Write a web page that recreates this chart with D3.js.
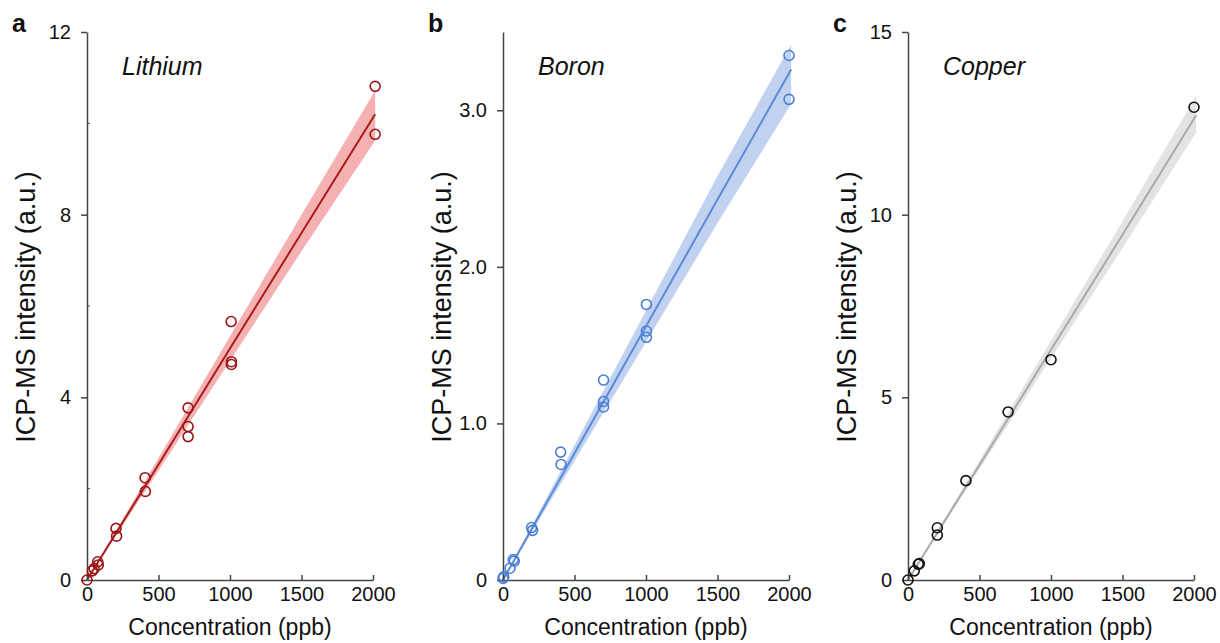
<!DOCTYPE html>
<html>
<head>
<meta charset="utf-8">
<script src="https://cdn.jsdelivr.net/npm/d3@7"></script>
<style>
  body { margin: 0; background: #fff; }
  text { font-family: "Liberation Sans", Arial, sans-serif; fill: #111; }
</style>
</head>
<body>
<div class="canvas"></div>
<script>
const liConc = [0, 37, 50, 75, 79, 203, 207, 406, 408, 707, 707, 707, 1008, 1010, 1010, 2015, 2015];
const liVal = [0, 0.2, 0.25, 0.4, 0.33, 1.13, 0.96, 2.24, 1.94, 3.77, 3.36, 3.14, 5.66, 4.78, 4.72, 10.81, 9.76];
const bConc = [0, 5, 49, 72, 79, 200, 207, 403, 406, 703, 703, 703, 1003, 1003, 1003, 2000, 2000];
const bVal = [0.01, 0.02, 0.075, 0.13, 0.12, 0.335, 0.317, 0.817, 0.738, 1.277, 1.14, 1.105, 1.76, 1.59, 1.55, 3.35, 3.07];
const cuConc = [0, 44, 72, 79, 205, 205, 405, 700, 1000, 2000];
const cuVal = [0, 0.25, 0.43, 0.45, 1.43, 1.23, 2.72, 4.6, 6.03, 12.94];

// fitted line and its shaded band, read at these concentrations
const fitConc = [0, 500, 1000, 1500, 2015];
const liFit = [0, 2.53, 5.07, 7.6, 10.2];
const liLo = [0, 2.39, 4.8, 7.2, 9.62];
const liHi = [0, 2.67, 5.34, 8.0, 10.72];
const bFit = [0, 0.81, 1.62, 2.43, 3.26];
const bLo = [0, 0.76, 1.52, 2.28, 3.04];
const bHi = [0, 0.86, 1.72, 2.58, 3.42];
const cuFit = [0, 3.15, 6.3, 9.45, 12.72];
const cuLo = [0, 3.04, 6.06, 9.09, 12.25];
const cuHi = [0, 3.28, 6.55, 9.82, 13.25];

const xTicks = [0, 500, 1000, 1500, 2000];

const panels = [
  { letter: 'a', name: 'Lithium', left: 87, yMax: 12, yTicks: [0, 4, 8, 12], yMinor: [2, 6, 10], fmt: d3.format('d'),
    conc: liConc, val: liVal, fit: liFit, lo: liLo, hi: liHi,
    line: '#a81c1c', dot: '#9a1515', band: '#f4a9a9' },
  { letter: 'b', name: 'Boron', left: 503, yMax: 3.5, yTicks: [0, 1, 2, 3], yMinor: [], fmt: d => d === 0 ? '0' : d3.format('.1f')(d),
    conc: bConc, val: bVal, fit: bFit, lo: bLo, hi: bHi,
    line: '#5a8ad8', dot: '#4a7ed4', band: '#b9cdee' },
  { letter: 'c', name: 'Copper', left: 908, yMax: 15, yTicks: [0, 5, 10, 15], yMinor: [], fmt: d3.format('d'),
    conc: cuConc, val: cuVal, fit: cuFit, lo: cuLo, hi: cuHi,
    line: '#a9a9a9', dot: '#111', band: '#e0e0e0' }
];

const dims = { width: 1220, height: 643, top: 32, bottom: 580, plotW: 286 };

const svg = d3.select('.canvas')
  .append('svg')
  .attr('width', dims.width)
  .attr('height', dims.height);

const axisColor = '#444';

panels.forEach(p => {
  const g = svg.append('g').attr('transform', `translate(${p.left}, 0)`);

  const x = d3.scaleLinear().domain([0, 2000]).range([0, dims.plotW]);
  const y = d3.scaleLinear().domain([0, p.yMax]).range([dims.bottom, dims.top]);

  // band
  const area = d3.area()
    .x((d, i) => x(fitConc[i]))
    .y0((d, i) => y(p.lo[i]))
    .y1((d, i) => y(p.hi[i]));
  g.append('path')
    .datum(fitConc)
    .attr('d', area)
    .attr('fill', p.band)
    .attr('opacity', 0.9);

  // fit line
  g.append('path')
    .datum(fitConc)
    .attr('d', d3.line().x((d, i) => x(fitConc[i])).y((d, i) => y(p.fit[i])))
    .attr('fill', 'none')
    .attr('stroke', p.line)
    .attr('stroke-width', 2);

  // x axis, ticks pointing up
  const xAxis = g.append('g')
    .attr('transform', `translate(0, ${dims.bottom})`)
    .call(d3.axisBottom(x).tickValues(xTicks).tickFormat(d3.format('d')).tickSize(-5).tickPadding(22).tickSizeOuter(0));
  xAxis.selectAll('text').attr('font-size', 20).attr('fill', '#111').attr('dy', '-0.05em');

  // y axis
  const yAxis = g.append('g')
    .call(d3.axisLeft(y).tickValues(p.yTicks).tickFormat(p.fmt).tickSize(6).tickPadding(10).tickSizeOuter(0));
  yAxis.selectAll('text').attr('font-size', 20).attr('fill', '#111');

  [xAxis, yAxis].forEach(a => {
    a.select('.domain').attr('stroke', axisColor).attr('stroke-width', 1.5);
    a.selectAll('.tick line').attr('stroke', axisColor).attr('stroke-width', 1.5);
    a.selectAll('text').attr('font-family', '"Liberation Sans", Arial, sans-serif');
  });

  // minor y ticks
  g.selectAll('.minor')
    .data(p.yMinor)
    .enter()
    .append('line')
    .attr('x1', 0).attr('x2', 3)
    .attr('y1', d => y(d)).attr('y2', d => y(d))
    .attr('stroke', axisColor)
    .attr('stroke-width', 1);

  // points
  g.selectAll('.pt')
    .data(p.conc)
    .enter()
    .append('circle')
    .attr('cx', (d, i) => x(d))
    .attr('cy', (d, i) => y(p.val[i]))
    .attr('r', 5)
    .attr('fill', 'none')
    .attr('stroke', p.dot)
    .attr('stroke-width', 1.6);

  // labels
  g.append('text')
    .attr('x', dims.plotW / 2)
    .attr('y', 635)
    .attr('text-anchor', 'middle')
    .attr('font-size', 23)
    .text('Concentration (ppb)');

  g.append('text')
    .attr('transform', `translate(-52, 307) rotate(-90)`)
    .attr('text-anchor', 'middle')
    .attr('font-size', 27)
    .text('ICP-MS intensity (a.u.)');

  g.append('text')
    .attr('x', 35)
    .attr('y', 75)
    .attr('font-size', 25)
    .attr('font-style', 'italic')
    .text(p.name);

  g.append('text')
    .attr('x', -75)
    .attr('y', 32)
    .attr('font-size', 25)
    .attr('font-weight', 'bold')
    .text(p.letter);
});
</script>
</body>
</html>
